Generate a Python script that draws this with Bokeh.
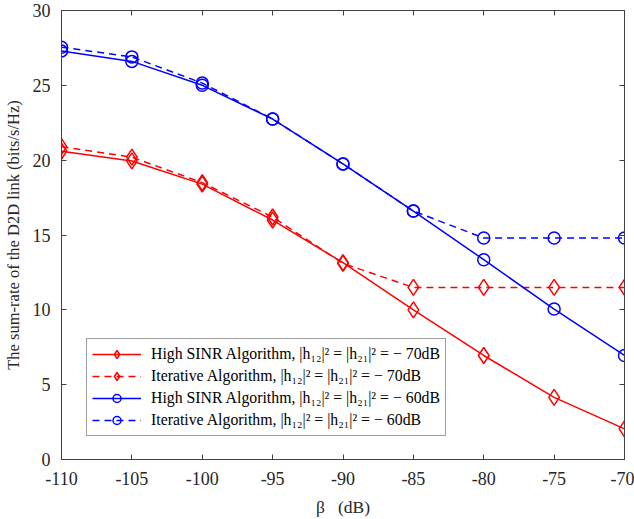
from bokeh.plotting import figure
from bokeh.models import FixedTicker, Legend, LinearAxis, Range1d
from bokeh.embed import file_html
from bokeh.resources import INLINE

beta = [-110, -105, -100, -95, -90, -85, -80, -75, -70]
high_sinr_70 = [20.6, 19.95, 18.4, 16.0, 13.15, 10.0, 6.95, 4.15, 2.05]
iterative_70 = [20.9, 20.2, 18.5, 16.2, 13.1, 11.5, 11.5, 11.5, 11.5]
high_sinr_60 = [27.3, 26.6, 25.0, 22.75, 19.75, 16.6, 13.35, 10.05, 6.95]
iterative_60 = [27.55, 26.9, 25.15, 22.75, 19.75, 16.6, 14.8, 14.8, 14.8]
x_ticks = [-110, -105, -100, -95, -90, -85, -80, -75, -70]
y_ticks = [0, 5, 10, 15, 20, 25, 30]

labels = [
    "High SINR Algorithm, |h\u2081\u2082|\u00b2 = |h\u2082\u2081|\u00b2 = \u2212 70dB",
    "Iterative Algorithm, |h\u2081\u2082|\u00b2 = |h\u2082\u2081|\u00b2 = \u2212 70dB",
    "High SINR Algorithm, |h\u2081\u2082|\u00b2 = |h\u2082\u2081|\u00b2 = \u2212 60dB",
    "Iterative Algorithm, |h\u2081\u2082|\u00b2 = |h\u2082\u2081|\u00b2 = \u2212 60dB",
]

FONT = "Liberation Serif"
AX = "#404040"

p = figure(width=634, height=519, output_backend="svg", toolbar_location=None,
           x_range=Range1d(-110, -70), y_range=Range1d(0, 30),
           min_border_left=61, min_border_right=10, min_border_top=10, min_border_bottom=60)
p.xgrid.visible = False
p.ygrid.visible = False
p.outline_line_color = AX
p.outline_line_width = 1
p.outline_line_alpha = 1

for ax, ticks in ((p.xaxis[0], x_ticks), (p.yaxis[0], y_ticks)):
    ax.ticker = FixedTicker(ticks=ticks)
    ax.major_label_overrides = {t: str(t) for t in ticks}
    ax.major_tick_in = 5
    ax.major_tick_out = 0
    ax.minor_tick_line_color = None
    ax.axis_line_color = AX
    ax.major_tick_line_color = AX
    ax.major_label_text_font = FONT
    ax.major_label_text_font_size = "18px"
    ax.major_label_text_color = "#262626"
    ax.axis_label_text_font = FONT
    ax.axis_label_text_font_style = "normal"
    ax.axis_label_text_color = "#262626"

p.xaxis.major_label_standoff = 12
p.yaxis.major_label_standoff = 11
p.xaxis.axis_label = "\u03b2\u00a0\u00a0\u00a0(dB)"
p.xaxis.axis_label_text_font_size = "17.5px"
p.xaxis.axis_label_standoff = 9
p.yaxis.axis_label = "The sum-rate of the D2D link (bits/s/Hz)"
p.yaxis.axis_label_text_font_size = "16.5px"
p.yaxis.axis_label_standoff = 7

for loc, ticks in (("right", y_ticks), ("above", x_ticks)):
    a = LinearAxis(ticker=FixedTicker(ticks=ticks), major_label_text_font_size="0px",
                   major_tick_in=5, major_tick_out=0, minor_tick_line_color=None,
                   axis_line_color=AX, major_tick_line_color=AX)
    a.major_label_text_alpha = 0
    p.add_layout(a, loc)

series = [
    (high_sinr_70, "red", "solid", "diamond", 16, labels[0]),
    (iterative_70, "red", "7 5", "diamond", 16, labels[1]),
    (high_sinr_60, "blue", "solid", "circle", 12, labels[2]),
    (iterative_60, "blue", "7 5", "circle", 12, labels[3]),
]
items = []
for ys, col, dash, marker, size, lab in series:
    r1 = p.line(beta, ys, line_color=col, line_width=1.5, line_dash=dash)
    r2 = p.scatter(beta, ys, marker=marker, size=size, line_color=col, line_width=1.5,
                   fill_color=None)
    items.append((lab, [r1, r2]))

legend = Legend(items=items, location=(25, 23))
legend.label_text_font = FONT
legend.label_text_font_size = "15.8px"
legend.label_text_color = "black"
legend.glyph_width = 49
legend.glyph_height = 20
legend.label_height = 20
legend.spacing = 2
legend.padding = 5
legend.margin = 0
legend.label_standoff = 10
legend.border_line_color = AX
legend.border_line_width = 1
legend.background_fill_color = "white"
legend.background_fill_alpha = 1
p.add_layout(legend, "center")

open("out.html", "w").write(file_html(p, INLINE))
